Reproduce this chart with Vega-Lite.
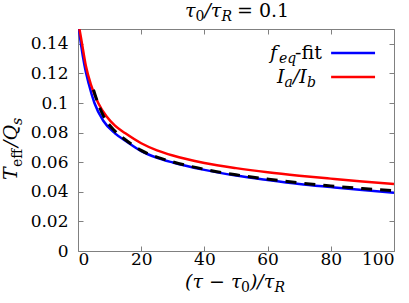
{
  "$schema": "https://vega.github.io/schema/vega-lite/v6.json",
  "width": 316,
  "height": 222,
  "autosize": {"type": "none"},
  "padding": {"left": 78, "top": 29, "right": 15, "bottom": 52},
  "config": {
    "view": {"stroke": "#808080", "strokeWidth": 1},
    "axis": {
      "domain": false, "grid": false, "title": null,
      "labelFont": "DejaVu Serif", "labelFontSize": 17, "labelColor": "#000000",
      "tickColor": "#808080", "tickSize": -5, "tickWidth": 1
    },
    "text": {"font": "DejaVu Serif", "fontSize": 19, "color": "#000000"}
  },
  "datasets": {
    "curves": [
      {"series": "feq", "x": 0.3, "y": 0.150},
      {"series": "feq", "x": 1, "y": 0.139},
      {"series": "feq", "x": 2, "y": 0.126},
      {"series": "feq", "x": 3.4, "y": 0.113},
      {"series": "feq", "x": 5.2, "y": 0.100},
      {"series": "feq", "x": 8, "y": 0.088},
      {"series": "feq", "x": 11.7, "y": 0.0795},
      {"series": "feq", "x": 15, "y": 0.0745},
      {"series": "feq", "x": 20, "y": 0.0675},
      {"series": "feq", "x": 25, "y": 0.0630},
      {"series": "feq", "x": 30, "y": 0.0598},
      {"series": "feq", "x": 40, "y": 0.0548},
      {"series": "feq", "x": 50, "y": 0.0510},
      {"series": "feq", "x": 60, "y": 0.0480},
      {"series": "feq", "x": 70, "y": 0.0453},
      {"series": "feq", "x": 80, "y": 0.0432},
      {"series": "feq", "x": 90, "y": 0.0412},
      {"series": "feq", "x": 100, "y": 0.0394},
      {"series": "IaIb", "x": 0.45, "y": 0.150},
      {"series": "IaIb", "x": 1, "y": 0.1435},
      {"series": "IaIb", "x": 2.5, "y": 0.125},
      {"series": "IaIb", "x": 4, "y": 0.113},
      {"series": "IaIb", "x": 6.4, "y": 0.100},
      {"series": "IaIb", "x": 9, "y": 0.091},
      {"series": "IaIb", "x": 11.7, "y": 0.0847},
      {"series": "IaIb", "x": 15, "y": 0.0795},
      {"series": "IaIb", "x": 20, "y": 0.0728},
      {"series": "IaIb", "x": 25, "y": 0.0680},
      {"series": "IaIb", "x": 30, "y": 0.0645},
      {"series": "IaIb", "x": 40, "y": 0.0595},
      {"series": "IaIb", "x": 50, "y": 0.0560},
      {"series": "IaIb", "x": 60, "y": 0.0532},
      {"series": "IaIb", "x": 70, "y": 0.0509},
      {"series": "IaIb", "x": 80, "y": 0.0489},
      {"series": "IaIb", "x": 90, "y": 0.0470},
      {"series": "IaIb", "x": 100, "y": 0.0453},
      {"series": "approx", "x": 4.9, "y": 0.109},
      {"series": "approx", "x": 6.2, "y": 0.1005},
      {"series": "approx", "x": 8, "y": 0.0915},
      {"series": "approx", "x": 11.7, "y": 0.081},
      {"series": "approx", "x": 15, "y": 0.0752},
      {"series": "approx", "x": 20, "y": 0.0680},
      {"series": "approx", "x": 25, "y": 0.0634},
      {"series": "approx", "x": 30, "y": 0.0602},
      {"series": "approx", "x": 40, "y": 0.0552},
      {"series": "approx", "x": 50, "y": 0.0515},
      {"series": "approx", "x": 60, "y": 0.0486},
      {"series": "approx", "x": 70, "y": 0.0460},
      {"series": "approx", "x": 80, "y": 0.0440},
      {"series": "approx", "x": 90, "y": 0.0422},
      {"series": "approx", "x": 100, "y": 0.0407}
    ]
  },
  "layer": [
    {
      "data": {"name": "curves"},
      "transform": [{"filter": "datum.series == 'feq'"}],
      "mark": {"type": "line", "color": "#0000ff", "strokeWidth": 2.5, "interpolate": "monotone", "clip": true},
      "encoding": {
        "x": {"field": "x", "type": "quantitative", "scale": {"domain": [0, 100], "nice": false},
              "axis": {"orient": "bottom", "values": [0, 20, 40, 60, 80, 100], "labelPadding": 5}},
        "y": {"field": "y", "type": "quantitative", "scale": {"domain": [0, 0.15], "nice": false},
              "axis": {"orient": "left", "values": [0, 0.02, 0.04, 0.06, 0.08, 0.1, 0.12, 0.14], "format": ".2~f", "labelPadding": 15}}
      }
    },
    {
      "data": {"name": "curves"},
      "transform": [{"filter": "datum.series == 'IaIb'"}],
      "mark": {"type": "line", "color": "#ff0000", "strokeWidth": 2.5, "interpolate": "monotone", "clip": true},
      "encoding": {
        "x": {"field": "x", "type": "quantitative", "axis": null},
        "y": {"field": "y", "type": "quantitative", "axis": null}
      }
    },
    {
      "data": {"name": "curves"},
      "transform": [{"filter": "datum.series == 'approx'"}],
      "mark": {"type": "line", "color": "#000000", "strokeWidth": 3, "strokeDash": [11, 8], "interpolate": "monotone", "clip": true},
      "encoding": {
        "x": {"field": "x", "type": "quantitative", "axis": null},
        "y": {"field": "y", "type": "quantitative", "axis": null}
      }
    },
    {
      "data": {"name": "curves"},
      "mark": {"type": "line", "opacity": 0},
      "encoding": {
        "x": {"field": "x", "type": "quantitative", "axis": {"orient": "top", "values": [0, 20, 40, 60, 80, 100], "labels": false}},
        "y": {"field": "y", "type": "quantitative", "axis": {"orient": "right", "values": [0, 0.02, 0.04, 0.06, 0.08, 0.1, 0.12, 0.14], "labels": false}},
        "detail": {"field": "series"}
      }
    },
    {
      "data": {"values": [{}]},
      "mark": {"type": "rule", "color": "#0000ff", "strokeWidth": 2.5},
      "encoding": {
        "x": {"datum": 80.1, "type": "quantitative", "axis": null},
        "x2": {"datum": 94.0},
        "y": {"datum": 0.1338, "type": "quantitative", "axis": null}
      }
    },
    {
      "data": {"values": [{}]},
      "mark": {"type": "rule", "color": "#ff0000", "strokeWidth": 2.5},
      "encoding": {
        "x": {"datum": 80.1, "type": "quantitative", "axis": null},
        "x2": {"datum": 94.0},
        "y": {"datum": 0.1176, "type": "quantitative", "axis": null}
      }
    },
    {"data": {"values": [{}]}, "mark": {"type": "text", "text": "f", "fontStyle": "italic", "align": "left", "baseline": "alphabetic"},
     "encoding": {"x": {"datum": 60.76, "type": "quantitative", "axis": null}, "y": {"datum": 0.1297, "type": "quantitative", "axis": null}}},
    {"data": {"values": [{}]}, "mark": {"type": "text", "text": "eq", "fontSize": 14, "fontStyle": "italic", "align": "left", "baseline": "alphabetic"},
     "encoding": {"x": {"datum": 63.6, "type": "quantitative", "axis": null}, "y": {"datum": 0.127, "type": "quantitative", "axis": null}}},
    {"data": {"values": [{}]}, "mark": {"type": "text", "text": "-fit", "align": "left", "baseline": "alphabetic"},
     "encoding": {"x": {"datum": 68.7, "type": "quantitative", "axis": null}, "y": {"datum": 0.1297, "type": "quantitative", "axis": null}}},
    {"data": {"values": [{}]}, "mark": {"type": "text", "text": "I", "fontStyle": "italic", "align": "left", "baseline": "alphabetic"},
     "encoding": {"x": {"datum": 63.0, "type": "quantitative", "axis": null}, "y": {"datum": 0.1135, "type": "quantitative", "axis": null}}},
    {"data": {"values": [{}]}, "mark": {"type": "text", "text": "a", "fontSize": 14, "fontStyle": "italic", "align": "left", "baseline": "alphabetic"},
     "encoding": {"x": {"datum": 65.35, "type": "quantitative", "axis": null}, "y": {"datum": 0.1108, "type": "quantitative", "axis": null}}},
    {"data": {"values": [{}]}, "mark": {"type": "text", "text": "/I", "fontStyle": "italic", "align": "left", "baseline": "alphabetic"},
     "encoding": {"x": {"datum": 68.0, "type": "quantitative", "axis": null}, "y": {"datum": 0.1135, "type": "quantitative", "axis": null}}},
    {"data": {"values": [{}]}, "mark": {"type": "text", "text": "b", "fontSize": 14, "fontStyle": "italic", "align": "left", "baseline": "alphabetic"},
     "encoding": {"x": {"datum": 72.5, "type": "quantitative", "axis": null}, "y": {"datum": 0.1108, "type": "quantitative", "axis": null}}},
    {"data": {"values": [{}]}, "mark": {"type": "text", "text": "τ", "fontStyle": "italic", "align": "left", "baseline": "alphabetic"},
     "encoding": {"x": {"datum": 33.86, "type": "quantitative", "axis": null}, "y": {"datum": 0.1581, "type": "quantitative", "axis": null}}},
    {"data": {"values": [{}]}, "mark": {"type": "text", "text": "0", "fontSize": 14, "align": "left", "baseline": "alphabetic"},
     "encoding": {"x": {"datum": 37.2, "type": "quantitative", "axis": null}, "y": {"datum": 0.1554, "type": "quantitative", "axis": null}}},
    {"data": {"values": [{}]}, "mark": {"type": "text", "text": "/τ", "fontStyle": "italic", "align": "left", "baseline": "alphabetic"},
     "encoding": {"x": {"datum": 40.0, "type": "quantitative", "axis": null}, "y": {"datum": 0.1581, "type": "quantitative", "axis": null}}},
    {"data": {"values": [{}]}, "mark": {"type": "text", "text": "R", "fontSize": 14, "fontStyle": "italic", "align": "left", "baseline": "alphabetic"},
     "encoding": {"x": {"datum": 45.4, "type": "quantitative", "axis": null}, "y": {"datum": 0.1554, "type": "quantitative", "axis": null}}},
    {"data": {"values": [{}]}, "mark": {"type": "text", "text": "= 0.1", "align": "left", "baseline": "alphabetic"},
     "encoding": {"x": {"datum": 50.3, "type": "quantitative", "axis": null}, "y": {"datum": 0.1581, "type": "quantitative", "axis": null}}},
    {"data": {"values": [{}]}, "mark": {"type": "text", "text": "(τ − τ", "fontStyle": "italic", "align": "left", "baseline": "alphabetic"},
     "encoding": {"x": {"datum": 33.86, "type": "quantitative", "axis": null}, "y": {"datum": -0.0250, "type": "quantitative", "axis": null}}},
    {"data": {"values": [{}]}, "mark": {"type": "text", "text": "0", "fontSize": 14, "align": "left", "baseline": "alphabetic"},
     "encoding": {"x": {"datum": 51.6, "type": "quantitative", "axis": null}, "y": {"datum": -0.0277, "type": "quantitative", "axis": null}}},
    {"data": {"values": [{}]}, "mark": {"type": "text", "text": ")/τ", "fontStyle": "italic", "align": "left", "baseline": "alphabetic"},
     "encoding": {"x": {"datum": 54.4, "type": "quantitative", "axis": null}, "y": {"datum": -0.0250, "type": "quantitative", "axis": null}}},
    {"data": {"values": [{}]}, "mark": {"type": "text", "text": "R", "fontSize": 14, "fontStyle": "italic", "align": "left", "baseline": "alphabetic"},
     "encoding": {"x": {"datum": 62.2, "type": "quantitative", "axis": null}, "y": {"datum": -0.0277, "type": "quantitative", "axis": null}}},
    {"data": {"values": [{}]}, "mark": {"type": "text", "text": "T", "fontStyle": "italic", "angle": 270, "align": "left", "baseline": "alphabetic"},
     "encoding": {"x": {"datum": -19.3, "type": "quantitative", "axis": null}, "y": {"datum": 0.048, "type": "quantitative", "axis": null}}},
    {"data": {"values": [{}]}, "mark": {"type": "text", "text": "eff", "fontSize": 14, "angle": 270, "align": "left", "baseline": "alphabetic"},
     "encoding": {"x": {"datum": -17.7, "type": "quantitative", "axis": null}, "y": {"datum": 0.0568, "type": "quantitative", "axis": null}}},
    {"data": {"values": [{}]}, "mark": {"type": "text", "text": "/Q", "fontStyle": "italic", "angle": 270, "align": "left", "baseline": "alphabetic"},
     "encoding": {"x": {"datum": -19.3, "type": "quantitative", "axis": null}, "y": {"datum": 0.0703, "type": "quantitative", "axis": null}}},
    {"data": {"values": [{}]}, "mark": {"type": "text", "text": "s", "fontSize": 14, "fontStyle": "italic", "angle": 270, "align": "left", "baseline": "alphabetic"},
     "encoding": {"x": {"datum": -17.7, "type": "quantitative", "axis": null}, "y": {"datum": 0.0851, "type": "quantitative", "axis": null}}}
  ],
  "resolve": {"axis": {"x": "independent", "y": "independent"}}
}
